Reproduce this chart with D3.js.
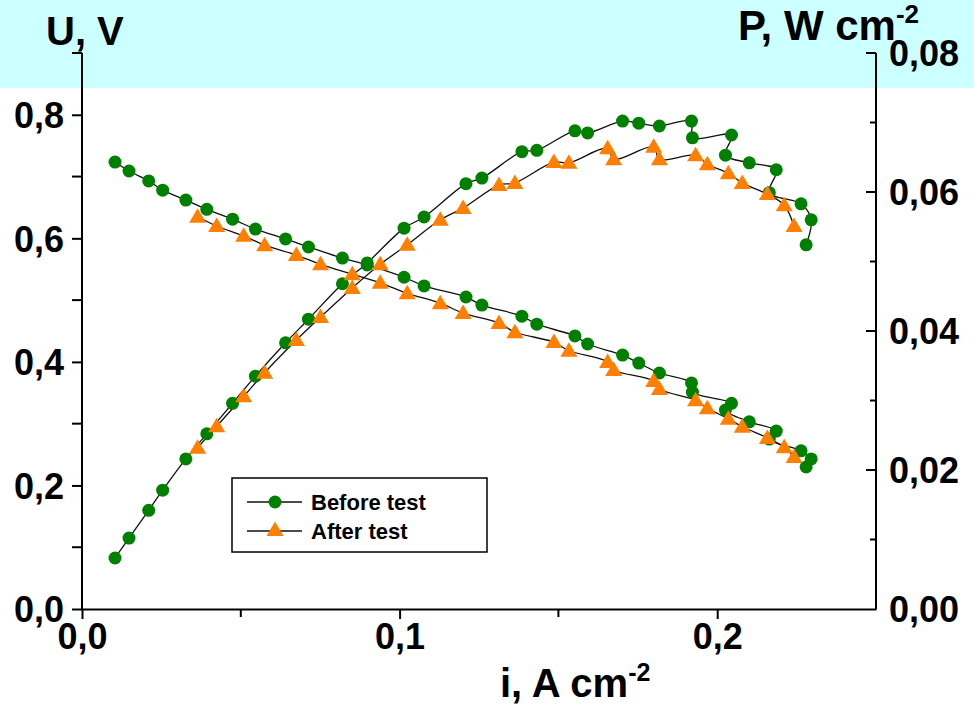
<!DOCTYPE html>
<html>
<head>
<meta charset="utf-8">
<script src="https://cdn.jsdelivr.net/npm/d3@7"></script>
<style>
  html, body { margin: 0; padding: 0; background: #fff; }
  svg { display: block; }
  text { font-family: "Liberation Sans", Arial, sans-serif; font-weight: bold; fill: #000; }
</style>
</head>
<body>
<svg id="chart" width="974" height="711"></svg>
<script>
// ---- data ----
const seriesNames = ["Before test", "After test"];

const beforeI = [0.0104, 0.0148, 0.0210, 0.0254, 0.0327, 0.0393, 0.0474, 0.0546, 0.0641, 0.0713,
  0.0820, 0.0898, 0.1014, 0.1077, 0.1209, 0.1259, 0.1385, 0.1432, 0.1552, 0.1592,
  0.1702, 0.1753, 0.1818, 0.1919, 0.1922, 0.2045, 0.2026, 0.2101, 0.2186, 0.2164,
  0.2264, 0.2296, 0.2280];
const beforeU = [0.7235, 0.709, 0.693, 0.678, 0.662, 0.647, 0.631, 0.615, 0.599, 0.586,
  0.568, 0.557, 0.537, 0.523, 0.505, 0.492, 0.474, 0.461, 0.442, 0.429,
  0.411, 0.398, 0.382, 0.366, 0.351, 0.333, 0.322, 0.303, 0.288, 0.275,
  0.256, 0.243, 0.230];
const beforeP = [0.00734, 0.0102, 0.0142, 0.0171, 0.0216, 0.0252, 0.0296, 0.0335, 0.0383, 0.0417,
  0.0468, 0.0498, 0.0548, 0.0564, 0.0612, 0.0620, 0.0658, 0.0660, 0.0688, 0.0685,
  0.0702, 0.0699, 0.0695, 0.0702, 0.0678, 0.0682, 0.0653, 0.0642, 0.0632, 0.0599,
  0.0583, 0.0560, 0.0524];

const afterI = [0.0364, 0.0424, 0.0509, 0.0575, 0.0675, 0.0751, 0.0851, 0.0939, 0.1024, 0.1128,
  0.1200, 0.1313, 0.1363, 0.1486, 0.1533, 0.1655, 0.1674, 0.1800, 0.1818, 0.1932,
  0.1969, 0.2035, 0.2079, 0.2158, 0.2211, 0.2242];
const afterU = [0.635, 0.620, 0.604, 0.589, 0.573, 0.558, 0.542, 0.528, 0.511, 0.495,
  0.479, 0.463, 0.448, 0.432, 0.418, 0.400, 0.387, 0.369, 0.356, 0.338,
  0.325, 0.308, 0.295, 0.277, 0.262, 0.246];
const afterP = [0.0232, 0.0263, 0.0306, 0.0340, 0.0387, 0.0420, 0.0462, 0.0496, 0.0524, 0.0560,
  0.0577, 0.0610, 0.0613, 0.0643, 0.0642, 0.0663, 0.0647, 0.0665, 0.0647, 0.0653,
  0.0640, 0.0627, 0.0613, 0.0597, 0.0581, 0.0551];

const xTickValues = [0, 0.1, 0.2];
const xTickLabels = ["0,0", "0,1", "0,2"];
const xMinorTicks = [0.05, 0.15];
const uTickValues = [0, 0.2, 0.4, 0.6, 0.8];
const uTickLabels = ["0,0", "0,2", "0,4", "0,6", "0,8"];
const uMinorTicks = [0.1, 0.3, 0.5, 0.7, 0.9];
const pTickValues = [0, 0.02, 0.04, 0.06, 0.08];
const pTickLabels = ["0,00", "0,02", "0,04", "0,06", "0,08"];
const pMinorTicks = [0.01, 0.03, 0.05, 0.07];

// ---- layout ----
const svg = d3.select("#chart");
const W = 974, H = 711;
const mLeft = 82, mRight = 876, mTop = 53, mBottom = 609;

svg.append("rect").attr("x", 0).attr("y", 0).attr("width", W).attr("height", H).attr("fill", "#fff");
svg.append("rect").attr("x", 0).attr("y", 0).attr("width", W).attr("height", 88).attr("fill", "#ccffff");

const x = d3.scaleLinear().domain([0, 0.25]).range([mLeft, mRight]);
const yU = d3.scaleLinear().domain([0, 0.9]).range([mBottom, mTop]);
const yP = d3.scaleLinear().domain([0, 0.08]).range([mBottom, mTop]);

// ---- axes ----
const axisStroke = 2;
function styleAxis(g) {
  g.select(".domain").attr("stroke", "#000").attr("stroke-width", axisStroke);
  g.selectAll(".tick line").attr("stroke", "#000").attr("stroke-width", axisStroke);
  g.selectAll(".tick text").style("font-size", "36px").style("font-weight", "bold")
    .style("font-family", '"Liberation Sans", Arial, sans-serif').attr("fill", "#000");
}

// x axis
const gx = svg.append("g").attr("transform", `translate(0,${mBottom})`)
  .call(d3.axisBottom(x).tickValues(xTickValues).tickSize(10).tickSizeOuter(0)
    .tickFormat((d, i) => xTickLabels[i]));
styleAxis(gx);
gx.selectAll(".tick text").attr("dy", "0").attr("y", 40);
gx.append("g").selectAll("line").data(xMinorTicks).join("line")
  .attr("x1", d => x(d)).attr("x2", d => x(d)).attr("y1", 0).attr("y2", 8)
  .attr("stroke", "#000").attr("stroke-width", axisStroke);

// left axis
const gl = svg.append("g").attr("transform", `translate(${mLeft},0)`)
  .call(d3.axisLeft(yU).tickValues(uTickValues).tickSize(10).tickSizeOuter(0)
    .tickFormat((d, i) => uTickLabels[i]));
styleAxis(gl);
gl.select(".domain").attr("d", `M0,${mBottom}V${mTop}`);
gl.selectAll(".tick text").attr("x", -18).attr("dy", "0.36em");
gl.append("g").selectAll("line").data(uMinorTicks).join("line")
  .attr("x1", -10).attr("x2", 0).attr("y1", d => yU(d)).attr("y2", d => yU(d))
  .attr("stroke", "#000").attr("stroke-width", axisStroke);

// right axis (ticks inward)
const gr = svg.append("g").attr("transform", `translate(${mRight},0)`)
  .call(d3.axisRight(yP).tickValues(pTickValues).tickSize(0).tickSizeOuter(0)
    .tickFormat((d, i) => pTickLabels[i]));
styleAxis(gr);
gr.select(".domain").attr("d", `M0,${mBottom}V${mTop}`);
gr.selectAll(".tick text").attr("x", 13).attr("dy", "0.36em");
gr.append("g").selectAll("line").data(pTickValues.filter(d => d > 0)).join("line")
  .attr("x1", -10).attr("x2", 0).attr("y1", d => yP(d)).attr("y2", d => yP(d))
  .attr("stroke", "#000").attr("stroke-width", axisStroke);
gr.append("g").selectAll("line").data(pMinorTicks).join("line")
  .attr("x1", -6).attr("x2", 0).attr("y1", d => yP(d)).attr("y2", d => yP(d))
  .attr("stroke", "#000").attr("stroke-width", axisStroke);

// ---- titles ----
svg.append("text").attr("x", 46).attr("y", 45).style("font-size", "40px").text("U, V");

const pt = svg.append("text").attr("x", 738).attr("y", 40).style("font-size", "42px");
pt.append("tspan").text("P, W cm");
pt.append("tspan").attr("dy", -17).style("font-size", "26px").text("-2");

const xt = svg.append("text").attr("x", 500).attr("y", 697).style("font-size", "40px");
xt.append("tspan").text("i, A cm");
xt.append("tspan").attr("dy", -16).style("font-size", "25px").text("-2");

// ---- lines and markers ----
const green = "#008000", orange = "#ff8000";
const lineU = d3.line().x(d => x(d[0])).y(d => yU(d[1])).curve(d3.curveCatmullRom.alpha(0.5));
const lineP = d3.line().x(d => x(d[0])).y(d => yP(d[1])).curve(d3.curveCatmullRom.alpha(0.5));

const bU = beforeI.map((v, i) => [v, beforeU[i]]);
const bP = beforeI.map((v, i) => [v, beforeP[i]]);
const aU = afterI.map((v, i) => [v, afterU[i]]);
const aP = afterI.map((v, i) => [v, afterP[i]]);

const plot = svg.append("g");
[[bU, lineU], [bP, lineP], [aU, lineU], [aP, lineP]].forEach(([data, gen]) => {
  plot.append("path").attr("d", gen(data)).attr("fill", "none")
    .attr("stroke", "#111").attr("stroke-width", 1.3);
});

const triPath = "M0,-8.5L8.5,6L-8.5,6Z";
function drawCircles(data, yScale) {
  plot.append("g").selectAll("circle").data(data).join("circle")
    .attr("cx", d => x(d[0])).attr("cy", d => yScale(d[1])).attr("r", 6.5).attr("fill", green);
}
function drawTriangles(data, yScale) {
  plot.append("g").selectAll("path").data(data).join("path")
    .attr("d", triPath)
    .attr("transform", d => `translate(${x(d[0])},${yScale(d[1])})`).attr("fill", orange);
}
drawCircles(bU, yU);
drawCircles(bP, yP);
drawTriangles(aU, yU);
drawTriangles(aP, yP);

// ---- legend ----
const lg = svg.append("g");
lg.append("rect").attr("x", 232).attr("y", 478).attr("width", 255).attr("height", 74)
  .attr("fill", "#fff").attr("stroke", "#000").attr("stroke-width", 1.5);
const rows = [502, 531];
rows.forEach((ry, k) => {
  lg.append("line").attr("x1", 247).attr("x2", 302).attr("y1", ry).attr("y2", ry)
    .attr("stroke", "#111").attr("stroke-width", 1.3);
  if (k === 0) {
    lg.append("circle").attr("cx", 275).attr("cy", ry).attr("r", 6.5).attr("fill", green);
  } else {
    lg.append("path").attr("d", triPath).attr("transform", `translate(275,${ry - 1})`).attr("fill", orange);
  }
  lg.append("text").attr("x", 311).attr("y", ry + 8).style("font-size", "22px").text(seriesNames[k]);
});
</script>
</body>
</html>
